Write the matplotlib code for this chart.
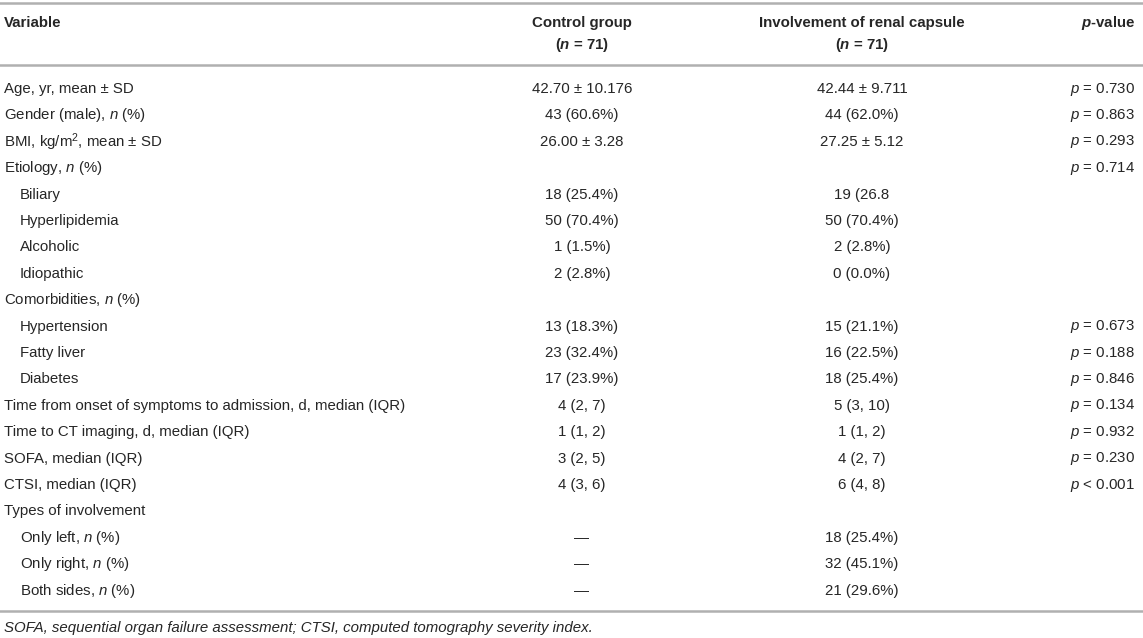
import matplotlib
matplotlib.use("Agg")
import matplotlib.pyplot as plt

plt.rcParams['font.family'] = ['Liberation Sans', 'DejaVu Sans']
plt.rcParams['mathtext.fontset'] = 'custom'
plt.rcParams['mathtext.rm'] = 'Liberation Sans'
plt.rcParams['mathtext.it'] = 'Liberation Sans:italic'
plt.rcParams['mathtext.bf'] = 'Liberation Sans:bold'
plt.rcParams['mathtext.bfit'] = 'Liberation Sans:bold:italic'

# table content
headers = ["Variable", "Control group", "Involvement of renal capsule", "$p$-value"]
group_n = [71, 71]

variables = [
    "Age, yr, mean ± SD",
    "Gender (male), $n$ (%)",
    "BMI, kg/m$^{2}$, mean ± SD",
    "Etiology, $n$ (%)",
    "Biliary",
    "Hyperlipidemia",
    "Alcoholic",
    "Idiopathic",
    "Comorbidities, $n$ (%)",
    "Hypertension",
    "Fatty liver",
    "Diabetes",
    "Time from onset of symptoms to admission, d, median (IQR)",
    "Time to CT imaging, d, median (IQR)",
    "SOFA, median (IQR)",
    "CTSI, median (IQR)",
    "Types of involvement",
    "Only left, $n$ (%)",
    "Only right, $n$ (%)",
    "Both sides, $n$ (%)",
]
indented = [0, 0, 0, 0, 1, 1, 1, 1, 0, 1, 1, 1, 0, 0, 0, 0, 0, 1, 1, 1]

control = [
    "42.70 ± 10.176", "43 (60.6%)", "26.00 ± 3.28", "",
    "18 (25.4%)", "50 (70.4%)", "1 (1.5%)", "2 (2.8%)", "",
    "13 (18.3%)", "23 (32.4%)", "17 (23.9%)",
    "4 (2, 7)", "1 (1, 2)", "3 (2, 5)", "4 (3, 6)", "",
    "—", "—", "—",
]
involvement = [
    "42.44 ± 9.711", "44 (62.0%)", "27.25 ± 5.12", "",
    "19 (26.8", "50 (70.4%)", "2 (2.8%)", "0 (0.0%)", "",
    "15 (21.1%)", "16 (22.5%)", "18 (25.4%)",
    "5 (3, 10)", "1 (1, 2)", "4 (2, 7)", "6 (4, 8)", "",
    "18 (25.4%)", "32 (45.1%)", "21 (29.6%)",
]
p_values = [
    "= 0.730", "= 0.863", "= 0.293", "= 0.714",
    "", "", "", "", "",
    "= 0.673", "= 0.188", "= 0.846",
    "= 0.134", "= 0.932", "= 0.230", "< 0.001", "",
    "", "", "",
]

footnote = "SOFA, sequential organ failure assessment; CTSI, computed tomography severity index."

W, H = 1143, 638
fig = plt.figure(figsize=(W / 100, H / 100), dpi=100)
ax = fig.add_axes([0, 0, 1, 1])
ax.set_xlim(0, W)
ax.set_ylim(H, 0)
ax.axis('off')

txt = '#262626'
rule = '#b0b0b0'
fs = 10.8

# rules
for y in (3, 65, 611):
    ax.axhline(y, color=rule, lw=1.8)

# header
ax.text(4, 23, headers[0], fontsize=fs, fontweight='bold', color=txt, va='center', ha='left')
ax.text(582, 23, headers[1], fontsize=fs, fontweight='bold', color=txt, va='center', ha='center')
ax.text(582, 45, "(" + r"$\mathbfit{n}$" + f" = {group_n[0]})", fontsize=fs, fontweight='bold',
        color=txt, va='center', ha='center')
ax.text(862, 23, headers[2], fontsize=fs, fontweight='bold', color=txt, va='center', ha='center')
ax.text(862, 45, "(" + r"$\mathbfit{n}$" + f" = {group_n[1]})", fontsize=fs, fontweight='bold',
        color=txt, va='center', ha='center')
ax.text(1135, 23, r"$\mathbfit{p}$-value", fontsize=fs, fontweight='bold', color=txt,
        va='center', ha='right')

# body rows
y0, dy = 89, 26.4
for i, var in enumerate(variables):
    y = y0 + i * dy
    ax.text(4 + 16 * indented[i], y, var, fontsize=fs, color=txt, va='center', ha='left')
    ax.text(582, y, control[i], fontsize=fs, color=txt, va='center', ha='center')
    ax.text(862, y, involvement[i], fontsize=fs, color=txt, va='center', ha='center')
    if p_values[i]:
        ax.text(1135, y, "$p$ " + p_values[i], fontsize=fs, color=txt, va='center', ha='right')

ax.text(4, 628, footnote, fontsize=fs, style='italic', color=txt, va='center', ha='left')

fig.savefig("out.png", dpi=100)
